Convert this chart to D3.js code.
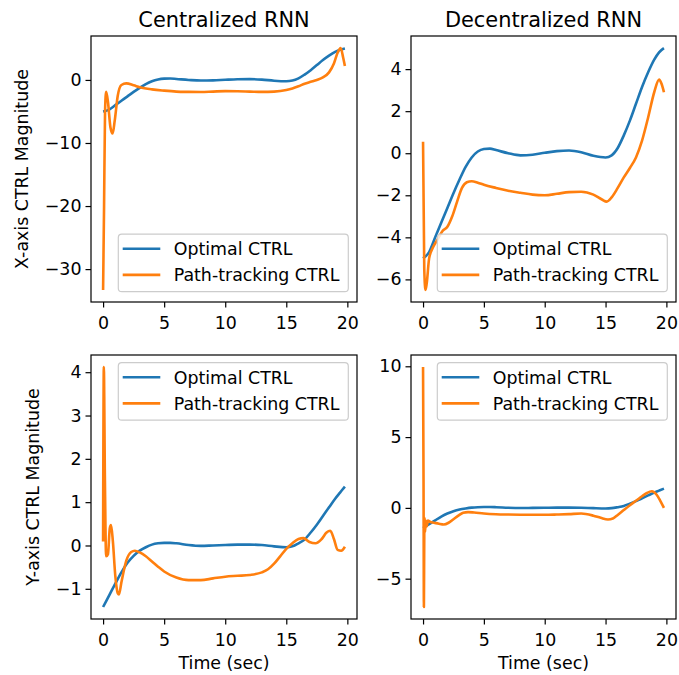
<!DOCTYPE html>
<html><head><meta charset="utf-8">
<script src="https://cdn.jsdelivr.net/npm/d3@7"></script>
<style>
body{margin:0;background:#fff}
text{font-family:"DejaVu Sans",sans-serif;fill:#000}
</style>
</head><body><svg id="chart" width="679" height="675"></svg>
<script>
// ---------------- data ----------------
const timeOpt = [0,0.5,1,1.5,2,2.5,3,3.5,4,4.5,5,5.5,6,7,8,9,10,11,12,13,14,15,15.5,16,16.5,17,17.5,18,18.5,19,19.4,19.8];
const optX = [-5.0,-4.7,-4.0,-3.3,-2.6,-1.9,-1.25,-0.65,-0.2,0.08,0.2,0.22,0.15,0.0,-0.1,-0.07,0.02,0.1,0.13,0.05,-0.12,-0.2,-0.1,0.25,0.85,1.55,2.35,3.15,3.85,4.45,4.8,5.0];
const optY = [-1.42,-1.15,-0.88,-0.62,-0.4,-0.24,-0.12,-0.04,0.02,0.05,0.06,0.06,0.05,0.01,-0.01,0.0,0.01,0.02,0.02,0.01,-0.02,-0.04,-0.02,0.05,0.14,0.3,0.48,0.68,0.88,1.08,1.22,1.36];

const timeCenX = [0,0.08,0.16,0.25,0.4,0.6,0.78,0.95,1.2,1.5,1.9,2.5,3,4,5,6,7,8,9,10,11,12,13,14,15,15.5,16,16.5,17,17.5,18,18.5,18.9,19.2,19.45,19.65,19.8];
const pathCenX = [-33.3,-20,-5,-1.9,-3.5,-7.5,-8.5,-6.5,-2.5,-0.8,-0.55,-0.85,-1.15,-1.5,-1.7,-1.85,-1.9,-1.92,-1.85,-1.78,-1.8,-1.85,-1.9,-1.85,-1.6,-1.35,-1.0,-0.6,-0.3,0.0,0.4,1.2,2.6,4.3,5.05,3.6,2.2];

const timeDecX = [0,0.1,0.2,0.3,0.5,0.8,1.2,1.6,2.0,2.4,2.8,3.2,3.6,4.0,4.5,5,6,7,8,9,10,11,12,13,14,14.7,15.1,15.5,16,16.5,17,17.5,18,18.5,19,19.4,19.6,19.8];
const pathDecX = [0.55,-5.5,-6.5,-6.2,-5.0,-4.5,-4.1,-3.7,-3.5,-3.0,-2.3,-1.65,-1.38,-1.33,-1.4,-1.5,-1.65,-1.78,-1.88,-1.97,-2.0,-1.93,-1.85,-1.83,-1.97,-2.2,-2.3,-2.1,-1.65,-1.15,-0.7,-0.2,0.6,1.7,2.9,3.5,3.3,2.9];

const timeCenY = [0,0.06,0.15,0.25,0.4,0.55,0.65,0.8,1.0,1.2,1.3,1.5,1.9,2.3,2.6,3.0,3.5,4,4.5,5,6,7,8,9,10,11,12,13,13.5,14,14.5,15,15.5,16,16.4,16.9,17.4,17.9,18.3,18.6,18.9,19.2,19.5,19.8];
const pathCenY = [0.09,4.12,1.5,-0.25,-0.2,0.4,0.47,0.1,-0.7,-1.1,-1.13,-0.85,-0.35,-0.15,-0.12,-0.16,-0.25,-0.37,-0.49,-0.6,-0.74,-0.8,-0.8,-0.76,-0.72,-0.7,-0.68,-0.62,-0.55,-0.42,-0.25,-0.08,0.05,0.15,0.17,0.08,0.05,0.15,0.3,0.34,0.15,-0.1,-0.12,-0.03];

const timeDecY = [0,0.04,0.07,0.1,0.13,0.17,0.22,0.3,0.4,0.6,0.9,1.3,1.7,2.1,2.5,2.9,3.3,3.7,4.2,5,6,7,8,9,10,11,12,13,14,14.6,15.2,15.6,16,16.5,17,17.5,18,18.4,18.8,19.2,19.5,19.8];
const pathDecY = [9.95,2.0,-7.0,-2.0,-0.7,-1.7,-0.9,-1.3,-0.9,-1.0,-1.05,-1.12,-1.17,-1.05,-0.8,-0.55,-0.35,-0.3,-0.33,-0.4,-0.45,-0.47,-0.48,-0.49,-0.49,-0.47,-0.44,-0.4,-0.55,-0.7,-0.82,-0.75,-0.5,-0.15,0.19,0.5,0.82,1.05,1.17,0.93,0.5,0.0];

const xTicks = [0,5,10,15,20];
const yTicksCenX = [-30,-20,-10,0];
const yTicksDecX = [-6,-4,-2,0,2,4];
const yTicksCenY = [-1,0,1,2,3,4];
const yTicksDecY = [-5,0,5,10];

const titles = ["Centralized RNN","Decentralized RNN"];
const yLabels = ["X-axis CTRL Magnitude","Y-axis CTRL Magnitude"];
const xLabel = "Time (sec)";
const legendLabels = ["Optimal CTRL","Path-tracking CTRL"];
const colors = ["#1f77b4","#ff7f0e"];

// ---------------- layout ----------------
const cols = [[91,357],[411,676]];
const rows = [[36,302],[355,619]];
const FS = 17.4;

const panels = [
  {r:0,c:0,opt:optX,tP:timeCenX,vP:pathCenX,yt:yTicksCenX,leg:"lower"},
  {r:0,c:1,opt:optX,tP:timeDecX,vP:pathDecX,yt:yTicksDecX,leg:"lower"},
  {r:1,c:0,opt:optY,tP:timeCenY,vP:pathCenY,yt:yTicksCenY,leg:"upper"},
  {r:1,c:1,opt:optY,tP:timeDecY,vP:pathDecY,yt:yTicksDecY,leg:"upper"}
];

const svg = d3.select("#chart");
svg.append("rect").attr("width",679).attr("height",675).attr("fill","#fff");

function padded(ext){const r=ext[1]-ext[0];return [ext[0]-0.05*r, ext[1]+0.05*r];}

panels.forEach((p,i)=>{
  const [x0,x1] = cols[p.c], [y0,y1] = rows[p.r];
  const tAll = timeOpt.concat(p.tP);
  const x = d3.scaleLinear().domain(padded(d3.extent(tAll))).range([x0,x1]);
  const y = d3.scaleLinear().domain(padded(d3.extent(p.opt.concat(p.vP)))).range([y1,y0]);
  const g = svg.append("g");
  const cid = "clip"+i;
  g.append("clipPath").attr("id",cid).append("rect").attr("x",x0).attr("y",y0).attr("width",x1-x0).attr("height",y1-y0);
  const line = d3.line().x(d=>x(d[0])).y(d=>y(d[1])).curve(d3.curveMonotoneX);
  const series = [timeOpt.map((t,k)=>[t,p.opt[k]]), p.tP.map((t,k)=>[t,p.vP[k]])];
  series.forEach((s,k)=>{
    g.append("path").attr("d",line(s)).attr("fill","none").attr("stroke",colors[k])
      .attr("stroke-width",2.6).attr("stroke-linejoin","round").attr("stroke-linecap","butt")
      .attr("clip-path",`url(#${cid})`);
  });
  // axes
  const ax = g.append("g").attr("transform",`translate(0,${y1})`)
    .call(d3.axisBottom(x).tickValues(xTicks).tickSize(5.5).tickPadding(9.1).tickFormat(d3.format("d")));
  const ay = g.append("g").attr("transform",`translate(${x0},0)`)
    .call(d3.axisLeft(y).tickValues(p.yt).tickSize(5.5).tickPadding(4).tickFormat(d3.format("d")));
  [ax,ay].forEach(a=>{
    a.select(".domain").remove();
    a.selectAll("line").attr("stroke","#000").attr("stroke-width",1.2);
    a.selectAll("text").style("font-size",FS+"px").style("font-family","DejaVu Sans").attr("fill","#000");
  });
  // frame
  g.append("rect").attr("x",x0).attr("y",y0).attr("width",x1-x0).attr("height",y1-y0)
    .attr("fill","none").attr("stroke","#000").attr("stroke-width",1.2);
  // legend
  const lw = 230, lh = 57.5;
  const lx = x1 - 8.7 - lw;
  const ly = p.leg==="lower" ? (y1 - 10.3 - lh) : (y0 + 7.7);
  const lg = g.append("g");
  lg.append("rect").attr("x",lx).attr("y",ly).attr("width",lw).attr("height",lh)
    .attr("rx",3.5).attr("fill","#fff").attr("fill-opacity",0.8).attr("stroke","#cccccc").attr("stroke-width",1.2);
  legendLabels.forEach((lab,k)=>{
    const cy = ly + 14.5 + k*26.2;
    lg.append("line").attr("x1",lx+4.4).attr("x2",lx+42).attr("y1",cy).attr("y2",cy)
      .attr("stroke",colors[k]).attr("stroke-width",2.6);
    lg.append("text").attr("x",lx+55.4).attr("y",cy+6.3).style("font-size",FS+"px").text(lab);
  });
  // titles
  if(p.r===0){
    svg.append("text").attr("x",(x0+x1)/2).attr("y",26.7).attr("text-anchor","middle")
      .style("font-size","20.9px").text(titles[p.c]);
  }
  if(p.r===1){
    svg.append("text").attr("x",(x0+x1)/2).attr("y",669).attr("text-anchor","middle")
      .style("font-size",FS+"px").text(xLabel);
  }
  if(p.c===0){
    const bb = ay.node().getBBox();
    const bx = x0 + bb.x - 17;
    const cy = (y0+y1)/2;
    svg.append("text").attr("transform",`translate(${bx},${cy}) rotate(-90)`).attr("text-anchor","middle")
      .style("font-size",FS+"px").text(yLabels[p.r]);
  }
});
</script></body></html>
